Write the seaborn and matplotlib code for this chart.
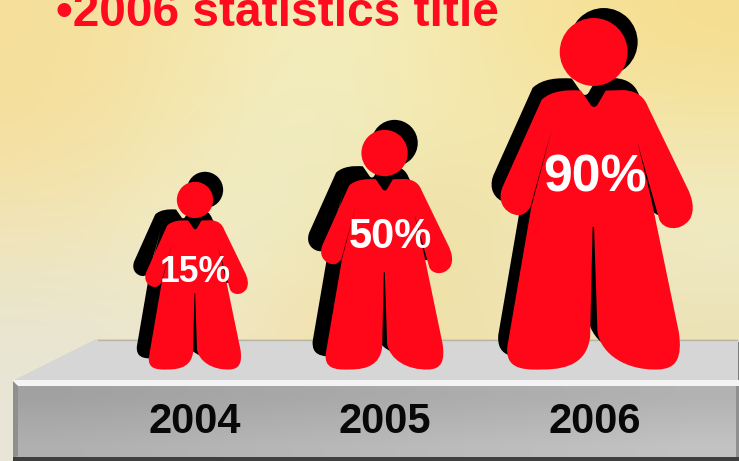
import numpy as np
import pandas as pd
import matplotlib
matplotlib.use("Agg")
import matplotlib.pyplot as plt
import seaborn as sns
from matplotlib.path import Path
from matplotlib.patches import Polygon, Rectangle

# chart values
title = "\u20222006 statistics title"
years = ["2004", "2005", "2006"]
percents = [15, 50, 90]

# layout, in reference pixels
W, H = 739, 461
centre_x = [196.5, 386.5, 596.5]
figure_height = [188, 240, 352]
feet_y = 369.5
body_shift = [(-12, -11), (-13, -13), (-9, -12)]
head_shift = [(10, -10), (10, -10), (10, -10)]
pct_x = [195, 390.5, 595]
pct_y = [282, 248, 191]
pct_size = [25.6, 30, 37.4]

RED = "#ff0719"

# background colours, coarse grid stretched over the whole picture
bg_colors = [
    ["#f6df9b", "#f5e5a8", "#f3efc0", "#f4eab2", "#f7e29a", "#f5de90"],
    ["#f5df9e", "#f3e8b4", "#efedc6", "#f3e8ae", "#f4e8ae", "#f3e6ae"],
    ["#f1e5b8", "#f0ecc8", "#efebc2", "#eddd9e", "#f1e9bc", "#f0ecc8"],
    ["#e8e5d0", "#efe8cc", "#f3e2ac", "#f0e0a8", "#efe4b4", "#ebe1b5"],
    ["#e8e5d8", "#e8e5d8", "#f3e2ac", "#f0e0a8", "#efe4b4", "#ebe1b5"],
]


def hex_grid(rows):
    return np.array([[matplotlib.colors.to_rgb(c) for c in row] for row in rows])


def build_body():
    # outline, in zoomed pixels
    m, l, c = Path.MOVETO, Path.LINETO, Path.CURVE4
    steps = [
        (m, [(228, 207)]),
        (c, [(200, 205), (168, 207), (148, 226)]),
        (l, [(70, 400)]),
        (c, [(60, 420), (62, 445), (85, 457)]),
        (c, [(102, 465), (114, 462), (125, 445)]),
        (l, [(170, 282)]),
        (l, [(127, 445)]),
        (l, [(78, 730)]),
        (c, [(75, 770), (100, 778), (150, 776)]),
        (c, [(205, 776), (240, 760), (247, 710)]),
        (l, [(252, 485)]),
        (l, [(255, 485)]),
        (l, [(262, 700)]),
        (c, [(270, 745), (320, 778), (385, 776)]),
        (c, [(425, 775), (435, 750), (428, 700)]),
        (l, [(372, 430)]),
        (l, [(343, 310)]),
        (l, [(388, 470)]),
        (c, [(395, 490), (430, 497), (450, 470)]),
        (c, [(462, 450), (455, 425), (445, 405)]),
        (l, [(365, 240)]),
        (c, [(358, 222), (345, 208), (315, 206)]),
        (l, [(279, 207)]),
        (l, [(262, 236)]),
        (c, [(258, 242), (252, 242), (248, 236)]),
        (l, [(228, 207)]),
    ]
    verts, codes = [], []
    for code, pts in steps:
        for p in pts:
            verts.append(((p[0] - 260) / 718, (417 - p[1]) / 718))
            codes.append(code)
    return Path(np.array(verts), codes)


body_path = build_body()
# matplotlib rescales a path marker so its largest coordinate is 0.5
body_span = np.abs(body_path.vertices).max()
PT = 72 / 100


def body_size(h):
    return (h * PT * 2 * body_span) ** 2


def head_size(h):
    return (h * 0.193 * PT) ** 2


sns.set_theme(style="white")
plt.rcParams["font.family"] = ["Liberation Sans", "DejaVu Sans"]

fig = plt.figure(figsize=(W / 100, H / 100), dpi=100)
ax = fig.add_axes([0, 0, 1, 1])

ax.imshow(hex_grid(bg_colors), extent=(0, W, H, 0), aspect="auto",
          interpolation="bicubic", zorder=0)

# platform
ax.add_patch(Polygon([(13, 381), (98, 339), (739, 339), (739, 381)], closed=True,
                     fc="#d6d6d6", ec="none", antialiased=False, zorder=1))
ax.plot([98, 737], [339.5, 339.5], color="#b9b5a5", lw=1, zorder=1)
front = np.array([[[0.66] * 3], [[0.69] * 3], [[0.72] * 3]])
front_side = np.linspace(0.96, 1.06, 8)[None, :, None] * front
ax.imshow(np.clip(front_side, 0, 1), extent=(14, 737, 458, 385), aspect="auto",
          interpolation="bilinear", zorder=1)
ax.add_patch(Rectangle((13, 380), 726, 6, fc="#f4f4f4", ec="none", zorder=1.1))
ax.add_patch(Polygon([(13, 381), (18, 386), (18, 456), (13, 458)], closed=True,
                     fc="#8f8f8f", ec="none", zorder=1.1))
ax.add_patch(Rectangle((736, 386), 3, 72, fc="#8f8f8f", ec="none", zorder=1.1))
ax.add_patch(Rectangle((737.5, 342), 1.5, 38, fc="#7d7d7d", ec="none", zorder=1.1))
ax.add_patch(Rectangle((13, 457), 726, 4, fc="#3f3f3f", ec="none", zorder=1.2))

# people: shadow first, then the red figure
df = pd.DataFrame({"year": years, "pct": percents, "x": centre_x, "h": figure_height})
df["y"] = feet_y - df["h"] / 2
df["head_y"] = df["y"] - df["h"] * 0.402
df["head_x"] = df["x"] - df["h"] * 0.008
df["bx"] = df["x"] + [s[0] for s in body_shift]
df["by"] = df["y"] + [s[1] for s in body_shift]
df["hx"] = df["head_x"] + [s[0] for s in head_shift]
df["hy"] = df["head_y"] + [s[1] for s in head_shift]

common = dict(data=df, ax=ax, legend=False, linewidth=0)
sns.scatterplot(x="bx", y="by", marker=body_path, s=body_size(df["h"]).values,
                color="black", zorder=2, **common)
sns.scatterplot(x="hx", y="hy", marker="o", s=head_size(df["h"]).values,
                color="black", zorder=2, **common)
sns.scatterplot(x="x", y="y", marker=body_path, s=body_size(df["h"]).values,
                color=RED, zorder=3, **common)
sns.scatterplot(x="head_x", y="head_y", marker="o", s=head_size(df["h"]).values,
                color=RED, zorder=3, **common)

for i, row in df.iterrows():
    ax.text(pct_x[i], pct_y[i], f"{row['pct']}%", color="white", fontweight="bold",
            fontsize=pct_size[i], ha="center", va="baseline", zorder=5)
    ax.text(centre_x[i] - 1.5, 433, row["year"], color="#080808", fontweight="bold",
            fontsize=30, ha="center", va="baseline", zorder=5)

ax.text(56, 26, title, color="#ff0a1e", fontweight="bold", fontsize=34.5,
        ha="left", va="baseline", zorder=5)

ax.set_xlim(0, W)
ax.set_ylim(H, 0)
ax.set_axis_off()
fig.savefig("out.png", dpi=100)
